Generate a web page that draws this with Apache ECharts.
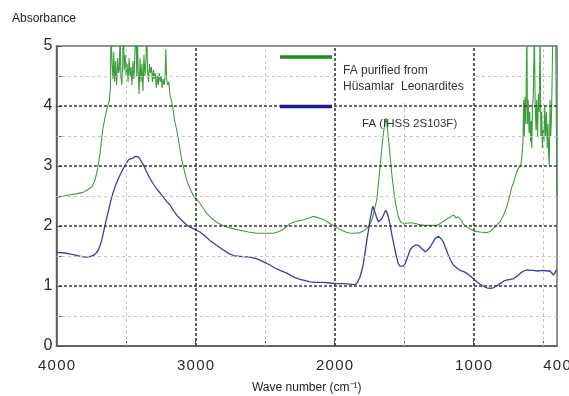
<!DOCTYPE html>
<html>
<head>
<meta charset="utf-8">
<script src="https://cdn.jsdelivr.net/npm/echarts@6/dist/echarts.min.js"></script>
<style>html,body{margin:0;padding:0;background:#fff}#c{width:569px;height:396px}</style>
</head>
<body>
<div id="c"></div>
<script>
// ---- Data ----
const greenWn = [4000,3950,3900,3850,3809,3780,3747,3725,3711,3700,3687,3675,3668,3650,3639,3620,3612,
 3608,3600,3594,3588,3582,3575,3568,3560,3553,3548,3543,3537,3530,3524,3519,3513,3506,3499,3492,3485,3478,3471,3464,3457,3450,3443,3436,3428,3423,3419,3413,3406,3399,3392,3385,3378,3371,3364,3357,3351,3345,3338,3331,3324,3317,3310,3303,3296,3289,3282,3275,3268,3261,3254,3247,3240,3233,3226,3219,3214,3208,3200,3192,3185,3175,3164,
 3150,3135,3120,3099,3080,3063,3040,3016,2990,2968,2940,2920,2880,2840,2802,2740,2680,2620,2560,2500,2442,2410,2380,2350,2320,2270,2226,2190,2154,2120,2082,2040,2010,1960,1920,1888,1850,1817,1790,1768,1745,1732,1715,1697,1685,1673,1660,1649,1638,1630,1622,1613,1600,1589,1576,1565,1553,1541,1525,1505,1470,1433,1400,1361,1310,1265,1240,1217,1190,1170,1155,1140,1130,1121,1110,1102,1090,1073,1050,1025,990,953,905,880,858,835,810,785,761,740,725,713,701,690,678,661,
 651,644,640,635,630,624,617,612,607,601,596,590,585,581,576,570,563,557,551,546,540,534,528,522,516,510,505,500,494,488,482,476,470,465,460,455,450,445,440,434,430,420,410,403,401,400];
const greenAbs = [2.47,2.50,2.52,2.54,2.56,2.60,2.65,2.75,2.88,3.02,3.21,3.45,3.60,3.82,3.93,4.10,4.30,
 5.3,4.7,4.45,4.9,4.4,4.75,4.35,4.8,4.55,4.6,5.3,4.5,4.35,4.7,5.3,4.6,4.85,4.5,4.7,4.4,4.8,4.5,4.65,4.35,4.75,4.45,4.9,5.3,4.5,5.3,4.6,4.2,4.8,4.4,4.7,4.25,4.85,4.5,4.75,5.3,4.6,4.4,4.7,4.55,4.65,4.4,4.6,4.45,4.55,4.3,4.5,4.35,4.55,4.4,4.5,4.3,4.45,4.35,4.5,4.95,4.45,4.35,4.4,4.2,4.1,3.98,
 3.75,3.60,3.40,3.10,2.92,2.76,2.62,2.51,2.44,2.38,2.28,2.21,2.12,2.05,2.01,1.96,1.93,1.90,1.88,1.88,1.88,1.90,1.93,1.98,2.04,2.08,2.10,2.13,2.16,2.14,2.11,2.05,2.01,1.94,1.90,1.88,1.88,1.89,1.92,1.96,2.03,2.10,2.25,2.43,2.70,2.98,3.30,3.54,3.72,3.80,3.66,3.48,3.15,2.88,2.62,2.43,2.28,2.15,2.07,2.04,2.05,2.05,2.03,2.01,2.01,2.01,2.04,2.08,2.12,2.14,2.17,2.18,2.14,2.12,2.15,2.16,2.10,2.03,1.99,1.95,1.91,1.90,1.89,1.91,1.96,2.01,2.07,2.18,2.32,2.50,2.65,2.72,2.82,2.90,2.96,3.00,
 3.2,3.45,4.1,3.5,4.15,3.7,5.3,3.7,4.1,3.55,3.9,3.4,3.75,3.3,4.0,4.2,5.3,4.0,3.6,4.1,3.5,4.2,3.9,5.3,3.5,3.9,3.3,3.6,3.4,4.0,3.5,3.9,3.3,3.7,3.2,3.0,4.1,3.5,3.8,4.6,5.3,5.3,5.3,5.3,2.6,2.48];

const blueWn = [4000,3939,3900,3855,3820,3783,3760,3735,3715,3699,3687,3675,3663,3651,3635,3620,3605,3591,3573,3555,3537,3519,3500,3483,3467,3452,3437,3423,3410,3399,3380,3363,3345,3327,3303,3279,3255,3232,3208,3183,3160,3135,3110,3088,3065,3040,3000,2968,2930,2896,2850,2800,2760,2716,2660,2608,2570,2536,2500,2464,2430,2392,2370,2356,2340,2320,2285,2248,2210,2176,2130,2081,2032,1990,1937,1890,1853,1835,1817,1805,1793,1780,1768,1756,1745,1735,1725,1717,1709,1697,1685,1672,1660,1645,1632,1622,1613,1600,1589,1577,1565,1553,1541,1529,1517,1505,1493,1475,1457,1440,1421,1397,1375,1349,1330,1313,1295,1277,1253,1235,1217,1200,1181,1163,1145,1120,1097,1070,1049,1025,1001,977,953,930,905,880,858,835,810,785,761,737,714,690,665,640,617,590,570,540,498,470,450,438,426,415,406,400];
const blueAbs = [1.56,1.55,1.53,1.51,1.49,1.48,1.49,1.51,1.55,1.60,1.67,1.76,1.88,2.01,2.17,2.32,2.46,2.57,2.69,2.79,2.88,2.96,3.03,3.10,3.12,3.13,3.16,3.18,3.15,3.12,3.04,2.96,2.87,2.79,2.70,2.62,2.55,2.48,2.41,2.35,2.26,2.18,2.12,2.07,2.02,1.98,1.94,1.90,1.83,1.76,1.68,1.60,1.54,1.50,1.49,1.48,1.46,1.43,1.39,1.35,1.30,1.26,1.24,1.25,1.21,1.18,1.14,1.11,1.09,1.07,1.06,1.06,1.05,1.04,1.04,1.03,1.02,1.06,1.15,1.25,1.37,1.56,1.76,1.93,2.10,2.22,2.33,2.30,2.23,2.14,2.07,2.08,2.12,2.20,2.26,2.22,2.15,2.02,1.87,1.73,1.60,1.47,1.37,1.33,1.31,1.33,1.37,1.48,1.60,1.65,1.68,1.68,1.63,1.57,1.60,1.65,1.72,1.79,1.83,1.79,1.73,1.63,1.51,1.42,1.35,1.30,1.26,1.24,1.21,1.17,1.12,1.07,1.03,1.00,0.97,0.96,0.97,1.00,1.04,1.08,1.10,1.11,1.12,1.16,1.21,1.25,1.27,1.26,1.26,1.25,1.26,1.25,1.25,1.22,1.18,1.22,1.26,1.27];

const xLabelValues = [4000,3000,2000,1000,400];
const xTickValues = [3500,3000,2500,2000,1500,1000,500];
const xMajorGrid = [3000,2000,1000];
const xMinorGrid = [3500,2500,1500,500];
const yMajorGrid = [1,2,3,4];
const yMinorGrid = [0.5,1.5,2.5,3.5,4.5];
const seriesNames = ['FA purified from\nHüsamlar  Leonardites','FA (IHSS 2S103F)'];

// ---- Build ----
const pairs = (xs, ys) => xs.map((x, i) => [x, ys[i]]);
const FONT = '"Liberation Sans", Arial, sans-serif';
const spaced = s => String(s).split('').join('\u200A');
const majorStyle = {color:'#3a3a3a', type:[3,2], width:1.6};
const minorStyle = {color:'#c4c4c4', type:[3,3], width:1};
const gridLines = [].concat(
  xMinorGrid.map(v => ({xAxis:v, lineStyle:minorStyle})),
  yMinorGrid.map(v => ({yAxis:v, lineStyle:minorStyle})),
  xMajorGrid.map(v => ({xAxis:v, lineStyle:majorStyle})),
  yMajorGrid.map(v => ({yAxis:v, lineStyle:majorStyle}))
);

const chart = echarts.init(document.getElementById('c'), null, {renderer:'canvas'});
chart.setOption({
  animation:false,
  backgroundColor:'#fff',
  textStyle:{fontFamily:FONT},
  grid:{left:56.5, right:12, top:46, bottom:50, containLabel:false, outerBoundsMode:'none',
        show:true, borderColor:'#707070', borderWidth:1.5, backgroundColor:'transparent'},
  xAxis:{
    type:'value', min:400, max:4000, inverse:true,
    axisLine:{show:true, onZero:false, lineStyle:{color:'#555', width:1.5}},
    axisTick:{show:true, inside:true, length:5, customValues:xTickValues, lineStyle:{color:'#555'}},
    axisLabel:{customValues:xLabelValues, fontSize:15, color:'#2a2a2a', margin:12, formatter:v=>spaced(v), fontFamily:FONT},
    splitLine:{show:false},
    name:'Wave number (cm\u207B\u00B9)', nameLocation:'middle', nameGap:36,
    nameTextStyle:{fontSize:12, color:'#222', fontFamily:FONT}
  },
  yAxis:{
    type:'value', min:0, max:5, interval:0.5,
    axisLine:{show:true, lineStyle:{color:'#555', width:1.5}},
    axisTick:{show:true, inside:true, length:5, lineStyle:{color:'#555'}},
    axisLabel:{fontSize:16, color:'#2a2a2a', margin:4, formatter:v => (Math.abs(v % 1) < 1e-9 ? String(v) : ''), fontFamily:FONT},
    splitLine:{show:false}
  },
  graphic:[
    {type:'text', left:12, top:13, style:{text:'Absorbance', fontSize:12, fill:'#222', fontFamily:FONT}},
    {type:'rect', z:50, shape:{x:336, y:48, width:136, height:53}, style:{fill:'#fff'}},
    {type:'line', z:51, shape:{x1:280, y1:57, x2:332, y2:57}, style:{stroke:'#1e8c1e', lineWidth:3.5}},
    {type:'line', z:51, shape:{x1:280, y1:106.5, x2:332, y2:106.5}, style:{stroke:'#1a1a8c', lineWidth:3.5}},
    {type:'text', z:51, left:343, top:63, style:{text:seriesNames[0], fontSize:12, lineHeight:16, fill:'#333', fontFamily:FONT}},
    {type:'text', z:51, left:362, top:118, style:{text:seriesNames[1], fontSize:11.5, fill:'#333', fontFamily:FONT}}
  ],
  series:[
    {type:'line', name:'grid', data:[], z:1, silent:true,
      markLine:{silent:true, symbol:['none','none'], label:{show:false}, animation:false, data:gridLines}},
    {type:'line', name:seriesNames[0], data:pairs(greenWn, greenAbs), showSymbol:false, symbol:'none', z:3,
      lineStyle:{color:'#3c9f3c', width:1.1}, clip:true},
    {type:'line', name:seriesNames[1], data:pairs(blueWn, blueAbs), showSymbol:false, symbol:'none', z:4,
      lineStyle:{color:'#3b3ea6', width:1.3}, clip:true}
  ]
});
</script>
</body>
</html>
